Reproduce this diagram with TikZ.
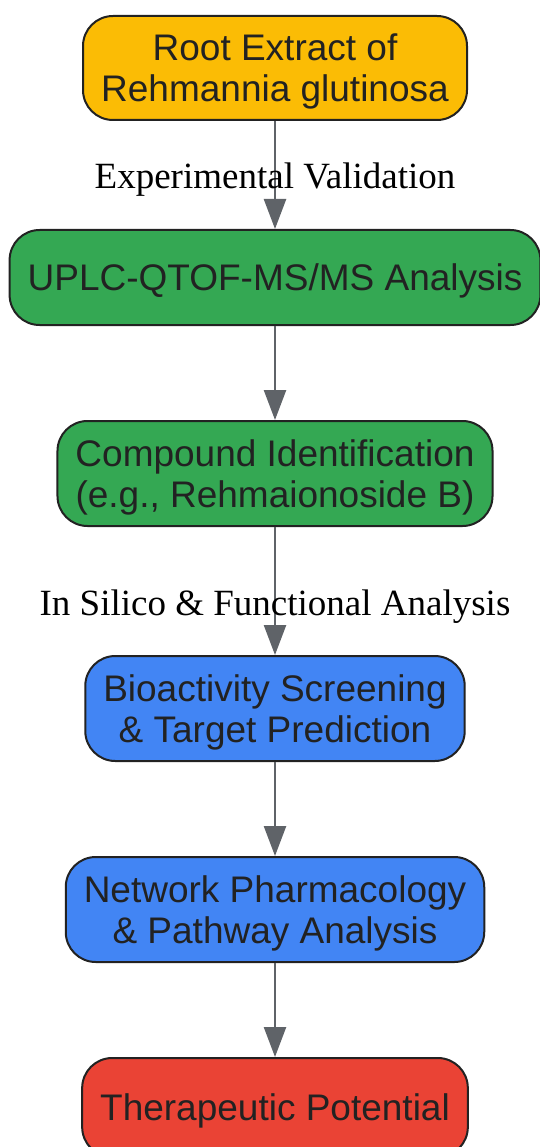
\documentclass[tikz,border=0pt]{standalone}
\usepackage{fontspec}
\setmainfont{Liberation Serif}
\setsansfont{Liberation Sans}
\usetikzlibrary{shapes.geometric, arrows.meta, positioning}
\definecolor{rootyellow}{HTML}{FBBC05}
\definecolor{labgreen}{HTML}{34A853}
\definecolor{silicoblue}{HTML}{4285F4}
\definecolor{outcomered}{HTML}{EA4335}
\definecolor{edgegray}{HTML}{5F6368}
\definecolor{boxtext}{HTML}{222222}
\tikzstyle{stage} = [draw=boxtext, line width=2pt, rectangle, rounded corners=30pt, text=boxtext, align=center, font=\sffamily\fontsize{37pt}{41pt}\selectfont, text depth=0pt, inner xsep=18pt]
\tikzstyle{arrow} = [line width=2.5pt, draw=edgegray, -{Triangle[length=30pt,width=22pt]}]
\tikzstyle{edgelabel} = [font=\rmfamily\fontsize{37pt}{41pt}\selectfont, text=black, text depth=0pt, inner sep=0pt]

\begin{document}
\begin{tikzpicture}
            % Page frame
            \useasboundingbox (0,0) rectangle (540pt,-1147pt);

            % Stages
            \node (RootExtract) [stage, fill=rootyellow, minimum width=384pt, minimum height=104pt] at (275pt,-68pt) {Root Extract of\\Rehmannia glutinosa};
            \node (UplcAnalysis) [stage, fill=labgreen, below=108pt of RootExtract, minimum width=530pt, minimum height=95pt] {UPLC-QTOF-MS/MS Analysis};
            \node (CompoundId) [stage, fill=labgreen, below=94pt of UplcAnalysis, minimum width=432pt, minimum height=105pt] {Compound Identification\\(e.g., Rehmaionoside B)};
            \node (Bioactivity) [stage, fill=silicoblue, below=128pt of CompoundId, minimum width=376pt, minimum height=105pt] {Bioactivity Screening\\\& Target Prediction};
            \node (NetworkPharm) [stage, fill=silicoblue, below=94pt of Bioactivity, minimum width=416pt, minimum height=105pt] {Network Pharmacology\\\& Pathway Analysis};
            \node (Therapeutic) [stage, fill=outcomered, below=94pt of NetworkPharm, minimum width=382pt, minimum height=99pt] {Therapeutic Potential};

            % Arrows
            \draw [arrow] (RootExtract) -- node[edgelabel, pos=0.51] {Experimental Validation} (UplcAnalysis);
            \draw [arrow] (UplcAnalysis) -- (CompoundId);
            \draw [arrow] (CompoundId) -- node[edgelabel, pos=0.59] {In Silico \& Functional Analysis} (Bioactivity);
            \draw [arrow] (Bioactivity) -- (NetworkPharm);
            \draw [arrow] (NetworkPharm) -- (Therapeutic);
\end{tikzpicture}
\end{document}
